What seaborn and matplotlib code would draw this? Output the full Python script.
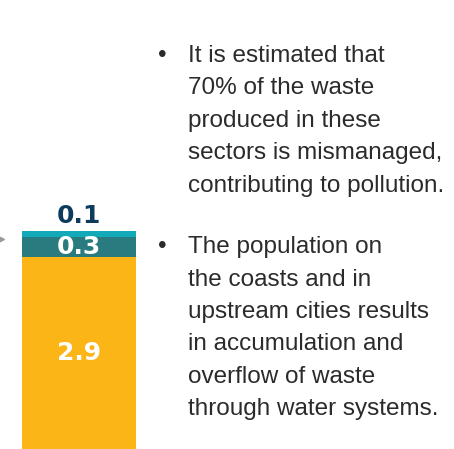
import numpy as np
import pandas as pd
import matplotlib
matplotlib.use("Agg")
import matplotlib.pyplot as plt
import seaborn as sns

# stacked bar, bottom to top
segments = ["Mismanaged", "Other", "Rest"]
values = [2.9, 0.3, 0.1]
colors = ["#FBB516", "#2A7B80", "#12A9B8"]
label_colors = ["white", "white", "#0D3B5E"]

bullets = [
    ["It is estimated that", "70% of the waste", "produced in these",
     "sectors is mismanaged,", "contributing to pollution."],
    ["The population on", "the coasts and in", "upstream cities results",
     "in accumulation and", "overflow of waste", "through water systems."],
]

sns.set_theme(style="white")
plt.rcParams["font.family"] = ["Liberation Sans", "DejaVu Sans"]

W, H = 454, 449
fig = plt.figure(figsize=(W / 100, H / 100), dpi=100)
ax = fig.add_axes([0, 0, 1, 1])

tops = np.cumsum(values)
# draw tallest first so the lower segments sit on top of it
for i in reversed(range(len(values))):
    df = pd.DataFrame({"cat": ["Total"], "val": [tops[i]]})
    sns.barplot(data=df, x="cat", y="val", color=colors[i], width=0.8,
                saturation=1, ax=ax, linewidth=0)

bottoms = tops - np.array(values)
for i, v in enumerate(values):
    if i == len(values) - 1:
        ax.annotate(f"{v}", (0, tops[i]), xytext=(0, 2), textcoords="offset points",
                    ha="center", va="bottom", color=label_colors[i],
                    fontsize=18, fontweight="bold", family="DejaVu Sans")
    else:
        ax.text(0, bottoms[i] + v / 2, f"{v}", ha="center", va="center",
                color=label_colors[i], fontsize=18, fontweight="bold",
                family="DejaVu Sans")

# keep the bar at the left edge of the picture
px = 0.8 / 114
left = -0.4 - 22 * px
ax.set_xlim(left, left + W * px)
ax.set_ylim(0, H / 66.2)
ax.axis("off")

# small grey pointer cut by the left edge
ax.plot([0.001], [1 - 239 / H], marker=">", color="#9A9A9A", ms=6,
        transform=ax.transAxes, clip_on=False)

# bullet text, one line at a time (baselines in pixels from the top)
first_baseline = [62, 253]
step = 32.5
for lines, y0 in zip(bullets, first_baseline):
    fig.text(162 / W, 1 - y0 / H, "\u2022", fontsize=17.5, color="#2B2B2B",
             ha="center", va="baseline")
    for k, line in enumerate(lines):
        fig.text(188 / W, 1 - (y0 + k * step) / H, line, fontsize=17.5,
                 color="#2B2B2B", ha="left", va="baseline")

fig.savefig("out.png", dpi=100)
